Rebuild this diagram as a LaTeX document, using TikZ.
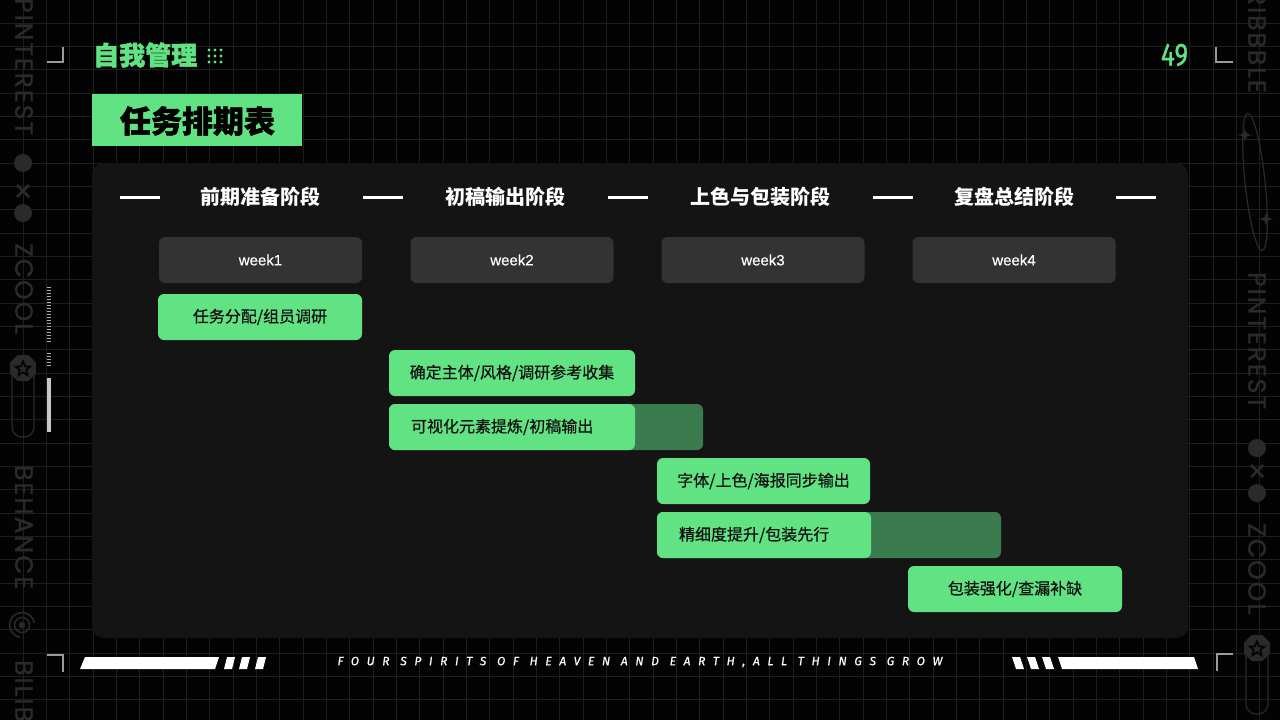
\documentclass[tikz,border=0pt]{standalone}
\usepackage{fontspec}
\setmainfont{Liberation Sans}
\newfontfamily\latmed[FakeBold=0.4]{Liberation Sans}
\newfontfamily\cjk{Noto Sans CJK SC}
\newfontfamily\cjkheavy[FakeBold=1.6]{Noto Sans CJK SC}
\newfontfamily\cjkmed[FakeBold=0.6]{Noto Sans CJK SC}
\newfontfamily\wmfont[FakeBold=1.2, LetterSpace=8]{Poppins}
\newfontfamily\numfont[FakeBold=0.8]{Fira Sans}
\newfontfamily\tagfont[LetterSpace=64, FakeBold=0.6]{Fira Sans}
\usetikzlibrary{shapes.geometric}
\definecolor{bg}{HTML}{030303}
\definecolor{gridc}{HTML}{1E1E1E}
\definecolor{panel}{HTML}{141414}
\definecolor{weekc}{HTML}{333333}
\definecolor{grn}{HTML}{62E383}
\definecolor{dgrn}{HTML}{3B7C4F}
\definecolor{wm}{HTML}{2A2A2A}
\definecolor{markc}{HTML}{9A9A9A}
\definecolor{bartxt}{HTML}{111111}
\tikzset{
  phase/.style={text=white, font=\cjk\bfseries\fontsize{20}{24}\selectfont, inner sep=0},
  phaseline/.style={white, line width=3},
  weekbox/.style={fill=weekc, rounded corners=6, minimum width=203, minimum height=46, text=white, font=\latmed\fontsize{15}{18}\selectfont, inner sep=0},
  bar/.style={fill=grn, rounded corners=6, minimum height=46, text=bartxt, font=\cjkmed\fontsize{16}{19}\selectfont, inner sep=0},
  barleft/.style={bar, align=left, inner xsep=22},
  ext/.style={fill=dgrn, rounded corners=6},
  wmtext/.style={text=wm, font=\wmfont\fontsize{25}{28}\selectfont, rotate=-90, inner sep=0, anchor=west},
  wmline/.style={draw=wm, line width=1.2},
  cornermark/.style={draw=markc, line width=1.5},
  slab/.style={fill=white},
}
\begin{document}
\begin{tikzpicture}[x=1pt,y=-1pt]
\fill[bg] (0,0) rectangle (1280,720);
\useasboundingbox (0,0) rectangle (1280,720);
% grid
\foreach \i in {1,...,54} \draw[gridc, line width=1] ({\i*23.333},0) -- ({\i*23.333},720);
\foreach \j in {1,...,30} \draw[gridc, line width=1] (0,{\j*23.333}) -- (1280,{\j*23.333});

% ---------- left watermark column ----------
\node[wmtext] (lw1) at (24,-2) {PINTEREST};
\fill[wm] (23,163) circle (9);
\draw[wm, line width=2.5] (17,185) -- (29,197) (17,197) -- (29,185);
\fill[wm] (23,213) circle (9);
\node[wmtext] (lw2) at (24,243) {ZCOOL};
\draw[wmline, rounded corners=10] (12,357) rectangle (34,437);
\node[regular polygon, regular polygon sides=8, fill=wm, minimum size=28, inner sep=0] (loct) at (23,368) {};
\node[star, star points=5, star point ratio=2.2, draw=bg, line width=1.8, minimum size=15, inner sep=0] (lstar) at (23,369) {};
\node[wmtext] (lw3) at (24,465) {BEHANCE};
\fill[wm] (22,625) circle (3.2);
\draw[wm, line width=1.5] (22,625) circle (7.5);
\draw[wm, line width=1.5] (22,625) ++(100:12.5) arc (100:350:12.5);
\node[wmtext] (lw4) at (24,660) {BILIBILI};

% left small marks
\draw[draw=markc!80, line width=4, dash pattern=on 1.2 off 1.8] (49,287) -- (49,342);
\draw[draw=markc!80, line width=4, dash pattern=on 1.2 off 1.8] (49,353) -- (49,367);
\draw[draw=white!78!black, line width=4] (49,378) -- (49,432);

% ---------- right watermark column ----------
\node[wmtext, anchor=east] (rw1) at (1257,93) {DRIBBBLE};
\draw[wmline] (1255,182) ellipse [x radius=10, y radius=69, rotate=6];
\fill[wm] (1245,127) .. controls (1246,134) .. (1253,135) .. controls (1246,136) .. (1245,143) .. controls (1244,136) .. (1237,135) .. controls (1244,134) .. cycle;
\fill[wm] (1266,211) .. controls (1267,218) .. (1274,219) .. controls (1267,220) .. (1266,227) .. controls (1265,220) .. (1258,219) .. controls (1265,218) .. cycle;
\node[wmtext] (rw2) at (1257,272) {PINTEREST};
\fill[wm] (1257,448) circle (9);
\draw[wm, line width=2.5] (1251,465) -- (1263,477) (1251,477) -- (1263,465);
\fill[wm] (1257,493) circle (9);
\node[wmtext] (rw3) at (1257,523) {ZCOOL};
\draw[wmline, rounded corners=10] (1246,640) rectangle (1268,714);
\node[regular polygon, regular polygon sides=8, fill=wm, minimum size=28, inner sep=0] (roct) at (1257,648) {};
\node[star, star points=5, star point ratio=2.2, draw=bg, line width=1.8, minimum size=15, inner sep=0] (rstar) at (1257,649) {};

% ---------- corner marks ----------
\draw[cornermark] (63,47) -- (63,62) -- (47,62);
\draw[cornermark] (1216,47) -- (1216,62) -- (1233,62);
\draw[cornermark] (47,655) -- (63,655) -- (63,672);
\draw[cornermark] (1233,654) -- (1217,654) -- (1217,671);

% ---------- header ----------
\node[anchor=west, inner sep=0, text=grn, font=\cjkheavy\bfseries\fontsize{26}{28}\selectfont] (h1) at (93,55) {自我管理};
\foreach \dx in {0,6,12} \foreach \dy in {0,6,12} \fill[grn] ({209+\dx},{50+\dy}) circle (1.7);
\node[anchor=north west, fill=grn, minimum width=210, minimum height=52, inner sep=0] (tbox) at (92,94) {};
\node[inner sep=0, text=black, font=\cjkheavy\bfseries\fontsize{31}{34}\selectfont] (title) at (197.5,121) {任务排期表};
\node[inner sep=0, text=grn, font=\numfont\fontsize{32}{34}\selectfont] (pnum) at (1174.5,55) {\scalebox{0.82}[1]{49}};

% ---------- panel ----------
\fill[panel, rounded corners=12] (92,163) rectangle (1188,638);
\draw[phaseline] (120,197) -- (160,197);
\draw[phaseline] (363,197) -- (403,197);
\draw[phaseline] (608,197) -- (648,197);
\draw[phaseline] (873,197) -- (913,197);
\draw[phaseline] (1116,197) -- (1156,197);
\node[phase] (p1) at (260,197) {前期准备阶段};
\node[phase] (p2) at (505,197) {初稿输出阶段};
\node[phase] (p3) at (760,197) {上色与包装阶段};
\node[phase] (p4) at (1014,197) {复盘总结阶段};

\node[weekbox] (w1) at (260.5,260) {week1};
\node[weekbox] (w2) at (512,260) {week2};
\node[weekbox] (w3) at (763,260) {week3};
\node[weekbox] (w4) at (1014,260) {week4};

% bars
\node[bar, minimum width=204] (b1) at (260,317) {任务分配/组员调研};
\node[bar, minimum width=246] (b2) at (512,373) {确定主体/风格/调研参考收集};
\fill[ext] (389,404) rectangle (703,450);
\node[barleft, text width=202] (b3) at (512,427) {可视化元素提炼/初稿输出};
\node[bar, minimum width=213] (b4) at (763.5,481) {字体/上色/海报同步输出};
\fill[ext] (657,512) rectangle (1001,558);
\node[barleft, text width=170] (b5) at (764,535) {精细度提升/包装先行};
\node[bar, minimum width=214] (b6) at (1015,589) {包装强化/查漏补缺};

% ---------- bottom ----------
\fill[slab] (85,657) -- (219,657) -- (215,669) -- (80,669) -- cycle;
\fill[slab] (227,657) -- (235,657) -- (232,669) -- (224,669) -- cycle;
\fill[slab] (242,657) -- (250,657) -- (247,669) -- (239,669) -- cycle;
\fill[slab] (258,657) -- (266,657) -- (263,669) -- (255,669) -- cycle;
\fill[slab] (1012,657) -- (1020,657) -- (1024,669) -- (1016,669) -- cycle;
\fill[slab] (1027,657) -- (1035,657) -- (1039,669) -- (1031,669) -- cycle;
\fill[slab] (1042,657) -- (1050,657) -- (1054,669) -- (1046,669) -- cycle;
\fill[slab] (1058,657) -- (1194,657) -- (1198,669) -- (1062,669) -- cycle;
\node[inner sep=0, text=white, font=\tagfont\itshape\fontsize{12}{14}\selectfont] (tag) at (640,662) {FOUR SPIRITS OF HEAVEN AND EARTH,ALL THINGS GROW};
\end{tikzpicture}
\end{document}
